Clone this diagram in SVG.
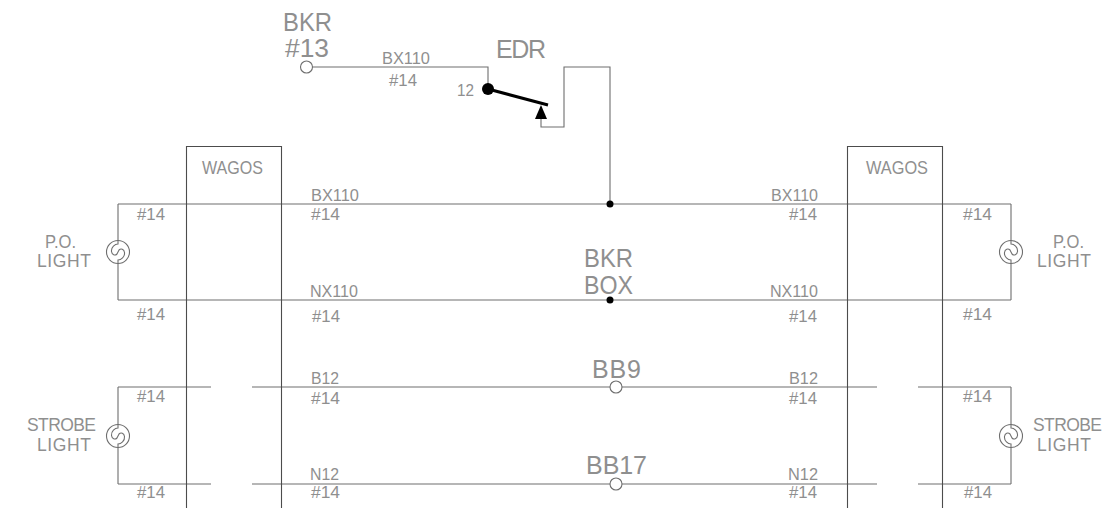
<svg xmlns="http://www.w3.org/2000/svg" width="1120" height="508" viewBox="0 0 1120 508">
<style>
text{font-family:"Liberation Sans",Arial,sans-serif;fill:#8f8f8f;font-weight:normal}
.s{font-size:16.5px}.m{font-size:17.5px}.l{font-size:25px}
.w{fill:none;stroke:#6e6e6e;stroke-width:1.1}
.b{fill:none;stroke:#4c4c4c;stroke-width:1.1}
.o{fill:#fff;stroke:#6e6e6e;stroke-width:1.1}
.k{fill:#000;stroke:none}
.t{fill:none;stroke:#000;stroke-width:3}
</style>
<defs>
<g id="lampL"><circle class="o" r="11.500"/><path class="w" d="M0 -11.500L0 -8C-3 -8 -7 -5 -6.500 -0.500C-6 3 -3 4 -1 2L1 -2C3 -4 6 -3 6.500 0.500C7 5 3 8 0 8L0 11.500"/></g>
<g id="lampR"><circle class="o" r="11.500"/><path class="w" d="M0 -11.500L0 -8C3 -8 7 -5 6.500 -0.500C6 3 3 4 1 2L-1 -2C-3 -4 -6 -3 -6.500 0.500C-7 5 -3 8 0 8L0 11.500"/></g>
</defs>
<rect width="1120" height="508" fill="#fff"/>
<g id="connectors">
<path class="w" d="M312.500 67H488V89"/>
<path class="w" d="M541 119V127H564V67H610V204"/>
<path class="w" d="M118 204H1011M118 300H1011M118 204V300M1011 204V300"/>
<path class="w" d="M118 387V484M1011 387V484"/>
<path class="w" d="M118 387H211M252 387H877M918 387H1011M118 484H211M252 484H877M918 484H1011"/>
</g>
<g id="wagos-left"><path class="b" d="M186.500 508V146.500H281.500V508"/><text class="m" x="202" y="174" textLength="61" lengthAdjust="spacingAndGlyphs">WAGOS</text></g>
<g id="wagos-right"><path class="b" d="M847.500 508V146.500H942.500V508"/><text class="m" x="866" y="174" textLength="62" lengthAdjust="spacingAndGlyphs">WAGOS</text></g>
<g id="bkr13"><circle class="o" cx="306.500" cy="67" r="6"/><text class="l" x="283" y="31" textLength="49" lengthAdjust="spacingAndGlyphs">BKR</text><text class="l" x="285" y="57" textLength="44" lengthAdjust="spacingAndGlyphs">#13</text></g>
<g id="edr">
<text class="l" x="496" y="58" textLength="50" lengthAdjust="spacing">EDR</text>
<text class="s" x="457" y="96" textLength="17" lengthAdjust="spacingAndGlyphs">12</text>
<circle class="k" cx="488" cy="89" r="6"/>
<path class="t" d="M488 89L548 105"/>
<path class="k" d="M541 105L547 119H535Z"/>
</g>
<g id="junction-bx"><circle class="k" cx="610" cy="204" r="3.500"/></g>
<g id="bkr-box"><circle class="k" cx="610" cy="300" r="3.500"/><text class="l" x="584" y="267" textLength="49" lengthAdjust="spacingAndGlyphs">BKR</text><text class="l" x="584" y="294" textLength="49" lengthAdjust="spacingAndGlyphs">BOX</text></g>
<g id="bb9"><circle class="o" cx="616" cy="387" r="6"/><text class="l" x="592" y="378" textLength="49" lengthAdjust="spacing">BB9</text></g>
<g id="bb17"><circle class="o" cx="616" cy="484" r="6"/><text class="l" x="586" y="474" textLength="61" lengthAdjust="spacing">BB17</text></g>
<g id="po-left"><use href="#lampL" x="118" y="252"/><text class="m" x="45" y="248" textLength="31" lengthAdjust="spacingAndGlyphs">P.O.</text><text class="m" x="37" y="267" textLength="54" lengthAdjust="spacing">LIGHT</text></g>
<g id="po-right"><use href="#lampR" x="1011" y="252"/><text class="m" x="1053" y="248" textLength="31" lengthAdjust="spacingAndGlyphs">P.O.</text><text class="m" x="1037" y="267" textLength="54" lengthAdjust="spacing">LIGHT</text></g>
<g id="strobe-left"><use href="#lampL" x="118" y="436"/><text class="m" x="27" y="431" textLength="69" lengthAdjust="spacing">STROBE</text><text class="m" x="37" y="451" textLength="54" lengthAdjust="spacing">LIGHT</text></g>
<g id="strobe-right"><use href="#lampR" x="1011" y="436"/><text class="m" x="1033" y="431" textLength="69" lengthAdjust="spacing">STROBE</text><text class="m" x="1037" y="451" textLength="54" lengthAdjust="spacing">LIGHT</text></g>
<g id="wire-labels">
<text class="s" x="382" y="64" textLength="48" lengthAdjust="spacingAndGlyphs">BX110</text>
<text class="s" x="389" y="86" textLength="28" lengthAdjust="spacingAndGlyphs">#14</text>
<text class="s" x="311" y="201" textLength="48" lengthAdjust="spacingAndGlyphs">BX110</text>
<text class="s" x="771" y="201" textLength="47" lengthAdjust="spacingAndGlyphs">BX110</text>
<text class="s" x="310" y="297" textLength="48" lengthAdjust="spacingAndGlyphs">NX110</text>
<text class="s" x="770" y="297" textLength="48" lengthAdjust="spacingAndGlyphs">NX110</text>
<text class="s" x="311" y="384" textLength="28" lengthAdjust="spacingAndGlyphs">B12</text>
<text class="s" x="789" y="384" textLength="29" lengthAdjust="spacingAndGlyphs">B12</text>
<text class="s" x="310" y="480" textLength="29" lengthAdjust="spacingAndGlyphs">N12</text>
<text class="s" x="788" y="480" textLength="30" lengthAdjust="spacingAndGlyphs">N12</text>
<text class="s" x="137" y="220" textLength="28" lengthAdjust="spacingAndGlyphs">#14</text>
<text class="s" x="311" y="220" textLength="29" lengthAdjust="spacingAndGlyphs">#14</text>
<text class="s" x="789" y="220" textLength="28" lengthAdjust="spacingAndGlyphs">#14</text>
<text class="s" x="963" y="220" textLength="29" lengthAdjust="spacingAndGlyphs">#14</text>
<text class="s" x="137" y="320" textLength="28" lengthAdjust="spacingAndGlyphs">#14</text>
<text class="s" x="312" y="322" textLength="28" lengthAdjust="spacingAndGlyphs">#14</text>
<text class="s" x="789" y="322" textLength="28" lengthAdjust="spacingAndGlyphs">#14</text>
<text class="s" x="963" y="320" textLength="29" lengthAdjust="spacingAndGlyphs">#14</text>
<text class="s" x="137" y="402" textLength="28" lengthAdjust="spacingAndGlyphs">#14</text>
<text class="s" x="311" y="404" textLength="29" lengthAdjust="spacingAndGlyphs">#14</text>
<text class="s" x="789" y="404" textLength="28" lengthAdjust="spacingAndGlyphs">#14</text>
<text class="s" x="963" y="402" textLength="29" lengthAdjust="spacingAndGlyphs">#14</text>
<text class="s" x="137" y="498" textLength="28" lengthAdjust="spacingAndGlyphs">#14</text>
<text class="s" x="311" y="498" textLength="29" lengthAdjust="spacingAndGlyphs">#14</text>
<text class="s" x="789" y="498" textLength="28" lengthAdjust="spacingAndGlyphs">#14</text>
<text class="s" x="964" y="498" textLength="28" lengthAdjust="spacingAndGlyphs">#14</text>
</g>
</svg>
